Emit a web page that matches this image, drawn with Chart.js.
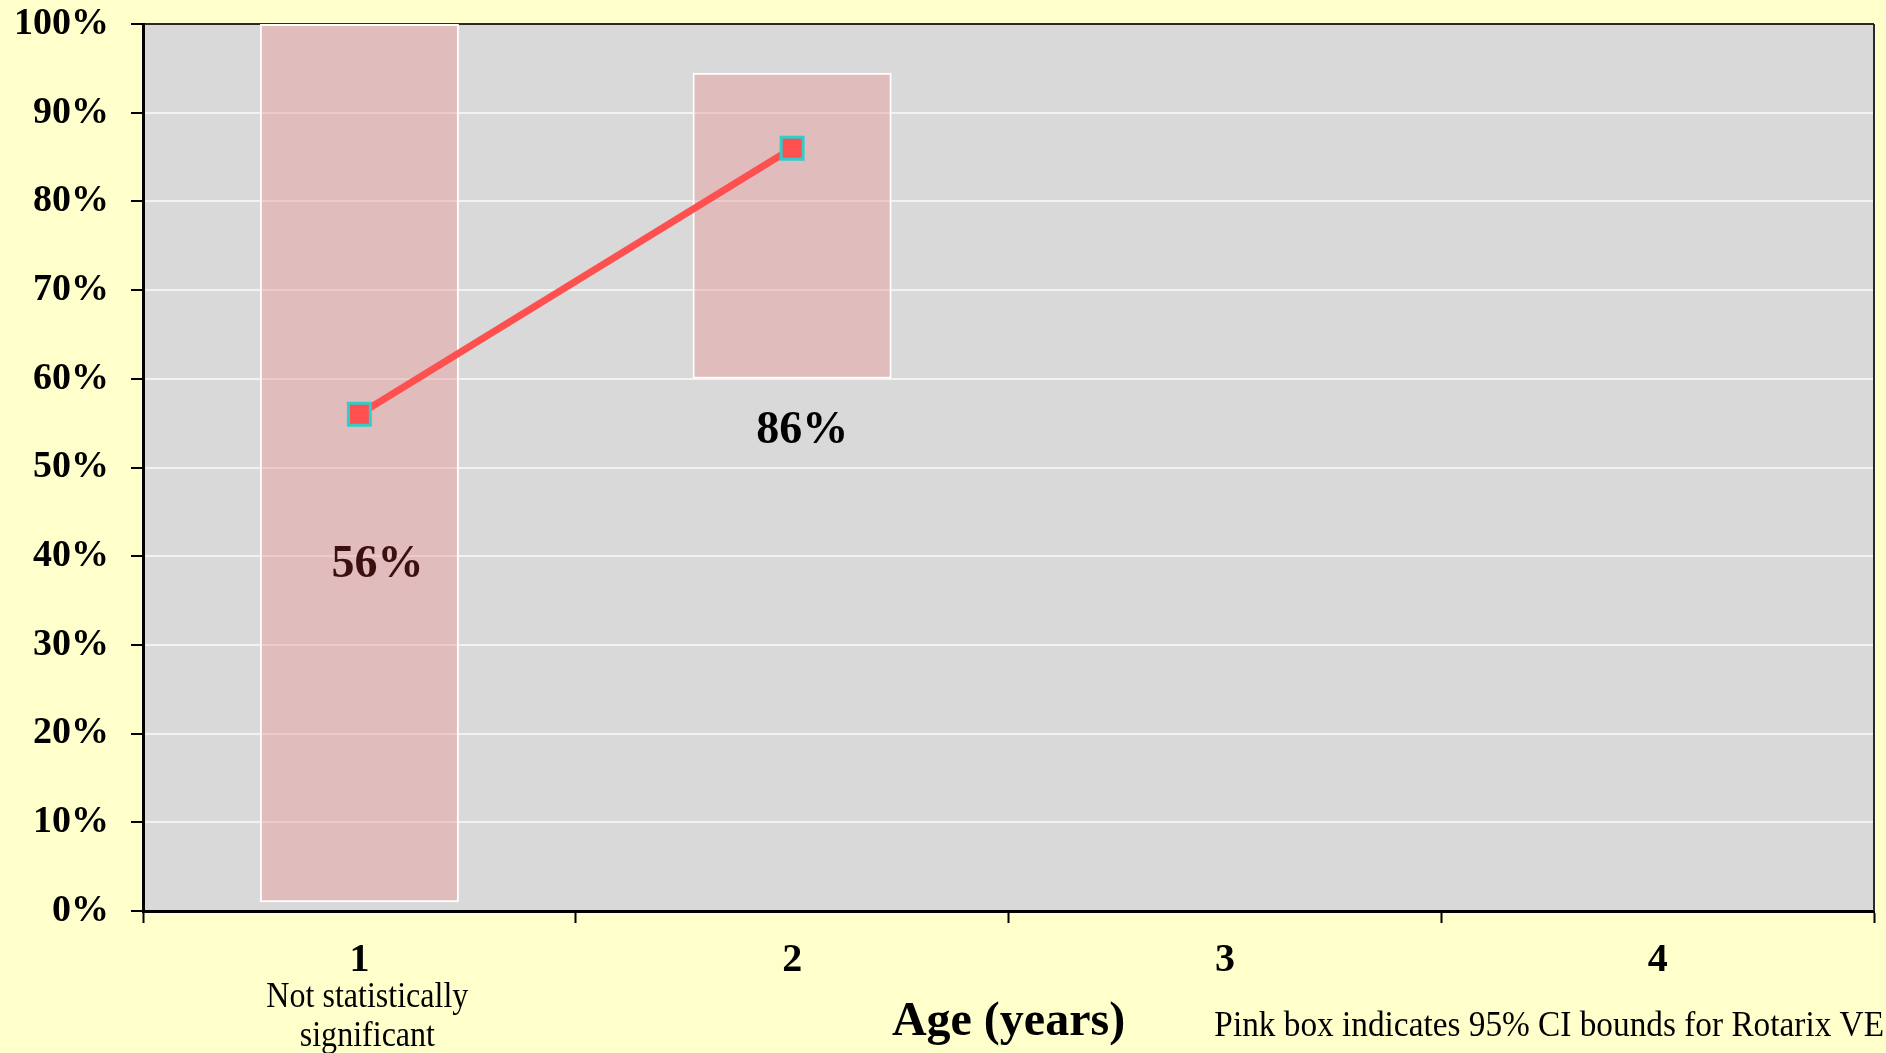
<!DOCTYPE html>
<html>
<head>
<meta charset="utf-8">
<title>Rotarix vaccine effectiveness by age</title>
<script src="https://cdn.jsdelivr.net/npm/chart.js@4.4.1/dist/chart.umd.min.js"></script>
<style>
  html, body { margin: 0; padding: 0; background: #FFFFCC; }
  #wrap { width: 1886px; height: 1053px; position: relative; }
</style>
</head>
<body>
<div id="wrap"><canvas id="chart"></canvas></div>
<script>
// Age groups on the x axis
const ages = ['1', '2', '3', '4'];
// Vaccine effectiveness (%) per age year
const veValues = [56, 86, null, null];
// 95% confidence interval bounds (%) per age year
const ciLower = [1, 60, null, null];
const ciUpper = [100, 94.5, null, null];
// Note printed under an age label
const ageNotes = [['Not statistically', 'significant'], null, null, null];
// Value axis ticks
const yMin = 0, yMax = 100, yStep = 10;
const footnote = 'Pink box indicates 95% CI bounds for Rotarix VE';
const xTitle = 'Age (years)';

const SERIF = "'Liberation Serif', 'Times New Roman', Times, serif";

const ciBoxes = ages.map((_, i) =>
  ciLower[i] == null ? null : [ciLower[i], ciUpper[i]]);

// Fills the page and the plot area, and draws the plot frame on the right
const frame = {
  id: 'frame',
  beforeDraw(chart) {
    const { ctx, chartArea: a } = chart;
    ctx.save();
    ctx.fillStyle = '#FFFFCC';
    ctx.fillRect(0, 0, chart.width, chart.height);
    ctx.fillStyle = '#D9D9D9';
    ctx.fillRect(a.left, a.top, a.right - a.left, a.bottom - a.top);
    ctx.restore();
  },
  beforeDatasetsDraw(chart) {
    const { ctx, chartArea: a } = chart;
    ctx.save();
    ctx.strokeStyle = '#2A2A2A';
    ctx.lineWidth = 2;
    ctx.beginPath();
    ctx.moveTo(a.right, a.top);
    ctx.lineTo(a.right, a.bottom);
    ctx.stroke();
    ctx.restore();
  }
};

// Value labels under each point, notes under age labels and the footnote
const annotations = {
  id: 'annotations',
  afterDraw(chart, args, opts) {
    const { ctx } = chart;
    const xs = chart.scales.x;
    const meta = chart.getDatasetMeta(1);
    ctx.save();
    ctx.textAlign = 'center';
    ctx.textBaseline = 'middle';
    ctx.font = 'bold 46px ' + SERIF;
    veValues.forEach((v, i) => {
      if (v == null) return;
      const pt = meta.data[i];
      const off = opts.labelOffsets[i];
      ctx.fillStyle = opts.labelColors[i];
      ctx.fillText(v + '%', pt.x + off[0], pt.y + off[1]);
    });

    ctx.fillStyle = '#000';
    ctx.font = '36px ' + SERIF;
    ageNotes.forEach((lines, i) => {
      if (!lines) return;
      const cx = xs.getPixelForValue(i) + 8;
      lines.forEach((t, k) => {
        ctx.save();
        ctx.translate(cx, 998 + k * 39);
        ctx.scale(0.89, 1);
        ctx.fillText(t, 0, 0);
        ctx.restore();
      });
    });

    ctx.save();
    ctx.textAlign = 'right';
    ctx.translate(chart.width - 2, 1027);
    ctx.scale(0.925, 1);
    ctx.fillText(footnote, 0, 0);
    ctx.restore();
    ctx.restore();
  }
};

new Chart(document.getElementById('chart'), {
  data: {
    labels: ages,
    datasets: [
      {
        type: 'bar',
        label: '95% CI',
        data: ciBoxes,
        backgroundColor: 'rgba(233, 153, 153, 0.45)',
        borderColor: '#FFFFFF',
        borderWidth: 2,
        borderSkipped: false,
        barPercentage: 0.46,
        categoryPercentage: 1,
        order: 1
      },
      {
        type: 'line',
        label: 'VE',
        data: veValues,
        borderColor: '#FF5050',
        borderWidth: 7,
        pointStyle: 'rect',
        pointRadius: 15.5,
        pointBackgroundColor: '#FF5050',
        pointBorderColor: '#33CCCC',
        pointBorderWidth: 3,
        spanGaps: false,
        order: 0
      }
    ]
  },
  options: {
    responsive: true,
    maintainAspectRatio: false,
    animation: false,
    layout: { autoPadding: false, padding: { top: 24, right: 12, left: 0, bottom: 0 } },
    plugins: {
      legend: { display: false },
      tooltip: { enabled: false },
      annotations: {
        labelOffsets: [[18, 151], [10, 283]],
        labelColors: ['#3D1010', '#000000']
      }
    },
    scales: {
      x: {
        type: 'category',
        offset: true,
        grid: {
          offset: true,
          drawOnChartArea: false,
          drawTicks: true,
          tickLength: 12,
          tickColor: '#000',
          tickWidth: 2
        },
        border: { display: true, color: '#000', width: 3 },
        ticks: {
          color: '#000',
          padding: 14,
          font: { family: SERIF, size: 40, weight: 'bold' },
          maxRotation: 0
        },
        title: {
          display: true,
          text: xTitle,
          color: '#000',
          font: { family: SERIF, size: 48, weight: 'bold' },
          padding: { top: 0, bottom: 2 }
        },
        afterFit(scale) {
          scale.height = 142;
          scale.paddingLeft = 0;
          scale.paddingRight = 0;
        }
      },
      y: {
        min: yMin,
        max: yMax,
        grid: {
          color: ctx => (ctx.tick && ctx.tick.value === yMax) ? '#2A2A2A' : '#F2F2F2',
          lineWidth: 2,
          drawTicks: true,
          tickLength: 12,
          tickColor: '#000',
          tickWidth: 2
        },
        border: { display: true, color: '#000', width: 3 },
        ticks: {
          stepSize: yStep,
          color: '#000',
          padding: 22,
          font: { family: SERIF, size: 38, weight: 'bold' },
          callback: v => v + '%'
        },
        afterFit(scale) {
          scale.width = 143;
          scale.paddingTop = 0;
          scale.paddingBottom = 0;
        }
      }
    }
  },
  plugins: [frame, annotations]
});
</script>
</body>
</html>
